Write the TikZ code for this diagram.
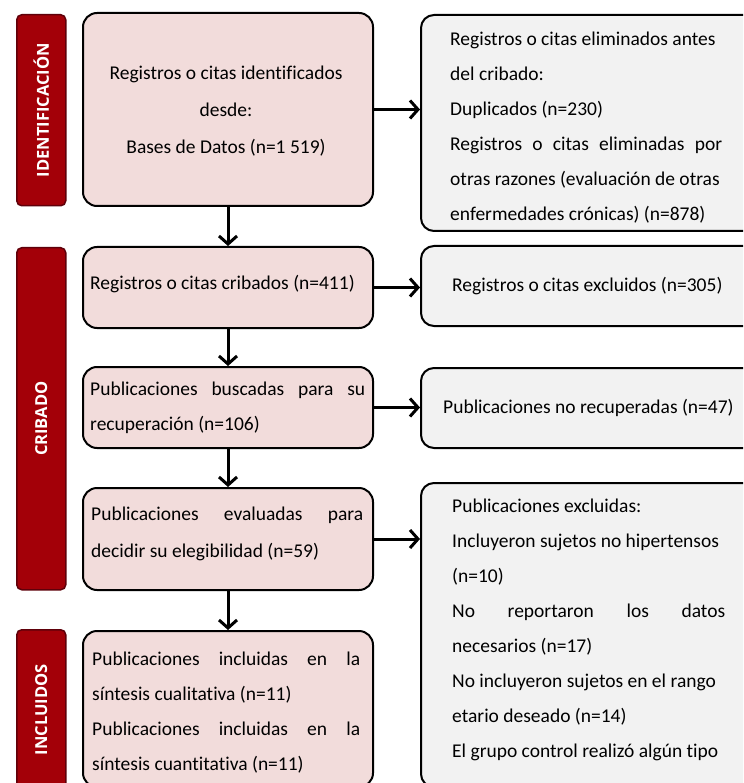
\documentclass[tikz,border=0pt]{standalone}
\usepackage{fontspec}
\setmainfont[Ligatures=NoCommon]{Carlito}
\newfontfamily\barfont{Open Sans}
\usetikzlibrary{arrows.meta}
\definecolor{pinkfill}{RGB}{242,220,219}
\definecolor{grayfill}{RGB}{242,242,242}
\definecolor{barred}{RGB}{163,0,8}
\definecolor{bardark}{RGB}{95,0,10}
\newcommand{\nsp}{\spaceskip=0pt\xspaceskip=0pt\relax}
\begin{document}
\begin{tikzpicture}[x=1pt,y=-1pt,
  mainbox/.style={draw=black,line width=2pt,fill=pinkfill,rounded corners=14pt,anchor=north west,inner sep=0pt},
  sidebox/.style={draw=black,line width=2pt,fill=grayfill,rounded corners=13pt,anchor=north west,inner sep=0pt},
  phasebar/.style={draw=bardark,line width=1.5pt,fill=barred,rounded corners=5pt,anchor=north west,inner sep=0pt},
  phaselabel/.style={text=white,rotate=90,font=\barfont\bfseries\fontsize{16.5}{19}\selectfont,inner sep=0pt},
  txt/.style={font=\fontsize{19.5}{35}\selectfont,inner sep=0pt,anchor=west,align=left},
  flow/.style={line width=3pt,-{Straight Barb[length=8pt,width=18pt]}}
]
\useasboundingbox (0,0) rectangle (743,783);
\clip (0,0) rectangle (743,783);
\fill[white] (0,0) rectangle (743,783);

% phase bars
\node[phasebar,minimum width=49pt,minimum height=191pt] (barI) at (16,14) {};
\node[phasebar,minimum width=49pt,minimum height=342pt] (barC) at (16,247) {};
\node[phasebar,minimum width=49pt,minimum height=160pt] (barN) at (16,629) {};
\node[phaselabel] (labI) at (barI.center) {IDENTIFICACIÓN};
\node[phaselabel] (labC) at (barC.center) {CRIBADO};
\node[phaselabel] (labN) at (barN.center) {INCLUIDOS};

% main boxes
\node[mainbox,minimum width=290pt,minimum height=193pt] (b1) at (82,12) {};
\node[mainbox,minimum width=290pt,minimum height=81pt] (b2) at (82,246) {};
\node[mainbox,minimum width=290pt,minimum height=81pt] (b3) at (82,366) {};
\node[mainbox,minimum width=290pt,minimum height=102pt] (b4) at (82,487) {};
\node[mainbox,minimum width=290pt,minimum height=156pt] (b5) at (82,630) {};

% side boxes
\node[sidebox,minimum width=340pt,minimum height=216pt] (r1) at (420,14) {};
\node[sidebox,minimum width=340pt,minimum height=80pt] (r2) at (420,245) {};
\node[sidebox,minimum width=340pt,minimum height=80pt] (r3) at (420,367) {};
\node[sidebox,minimum width=340pt,minimum height=304pt] (r4) at (420,482) {};

% texts of main boxes
\node[txt,font=\fontsize{19.5}{37}\selectfont,align=flush center,text width=290pt,anchor=center] (t1) at (226,111)
  {\nsp Registros o citas identificados\\desde:\\Bases de Datos (n=1 519)};
\node[txt,text width=280pt] (t2) at (90,284) {\nsp Registros o citas cribados (n=411)};
\node[txt,text width=275pt] (t3) at (90,408)
  {\nsp\makebox[275pt][s]{Publicaciones buscadas para su}\\recuperación (n=106)};
\node[txt,font=\fontsize{19.5}{37}\selectfont,text width=272pt] (t4) at (91,534)
  {\nsp\makebox[272pt][s]{Publicaciones evaluadas para}\\decidir su elegibilidad (n=59)};
\node[txt,text width=268pt] (t5) at (92,713)
  {\nsp\makebox[268pt][s]{Publicaciones incluidas en la}\\síntesis cualitativa (n=11)\\
   \makebox[268pt][s]{Publicaciones incluidas en la}\\síntesis cuantitativa (n=11)};

% texts of side boxes
\node[txt,text width=285pt] (s1) at (450,128)
  {\nsp Registros o citas eliminados antes\\del cribado:\\Duplicados (n=230)\\
   \makebox[272pt][s]{Registros o citas eliminadas por}\\otras razones (evaluación de otras\\enfermedades crónicas) (n=878)};
\node[txt,text width=285pt] (s2) at (452,286) {\nsp Registros o citas excluidos (n=305)};
\node[txt,text width=295pt] (s3) at (443,408) {\nsp Publicaciones no recuperadas (n=47)};
\node[txt,text width=285pt] (s4) at (452,630)
  {\nsp Publicaciones excluidas:\\Incluyeron sujetos no hipertensos\\(n=10)\\
   \makebox[273pt][s]{No reportaron los datos}\\necesarios (n=17)\\No incluyeron sujetos en el rango\\
   etario deseado (n=14)\\El grupo control realizó algún tipo};

% connectors
\draw[flow] (b1.south) -- (b2.north);
\draw[flow] (b2.south) -- (b3.north);
\draw[flow] (b3.south) -- (b4.north);
\draw[flow] (b4.south) -- (b5.north);
\draw[flow] (b1.east) -- (b1.east -| r1.west);
\draw[flow] (b2.east) -- (b2.east -| r2.west);
\draw[flow] (b3.east) -- (b3.east -| r3.west);
\draw[flow] (b4.east) -- (b4.east -| r4.west);
\end{tikzpicture}
\end{document}
